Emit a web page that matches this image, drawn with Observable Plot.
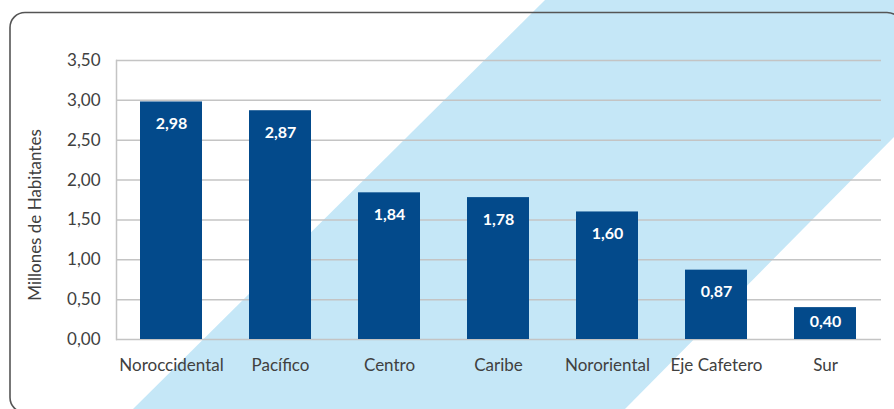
<!DOCTYPE html>
<html>
<head>
<meta charset="utf-8">
<script src="https://cdn.jsdelivr.net/npm/d3@7"></script>
<script src="https://cdn.jsdelivr.net/npm/@observablehq/plot@0.6"></script>
<style>
  html, body { margin: 0; padding: 0; background: white; }
  #wrap { position: relative; width: 894px; height: 409px; overflow: hidden; background: white; }
  #bg { position: absolute; left: 0; top: 0; }
  #chart { position: absolute; left: 0; top: 0; }
</style>
</head>
<body>
<div id="wrap">
  <svg id="bg" width="894" height="409">
    <polygon points="133,409 545,0 894,0 894,137 625,409" fill="#C5E7F7"></polygon>
    <rect x="10" y="12.5" width="892" height="400" rx="15" ry="15" fill="none" stroke="#555" stroke-width="1.6"></rect>
  </svg>
  <div id="chart"></div>
</div>
<script>
const regiones = ["Noroccidental", "Pacífico", "Centro", "Caribe", "Nororiental", "Eje Cafetero", "Sur"];
const habitantes = [2.98, 2.87, 1.84, 1.78, 1.60, 0.87, 0.40];
const yTicks = [0, 0.5, 1.0, 1.5, 2.0, 2.5, 3.0, 3.5];
const yTitle = "Millones de Habitantes";

const data = regiones.map((r, i) => ({region: r, value: habitantes[i]}));
const fmt = v => v.toFixed(2).replace(".", ",");
const FONT = "Lato, 'Liberation Sans', sans-serif";
const FS = 17;

const chart = Plot.plot({
  width: 894,
  height: 409,
  marginLeft: 116,
  marginRight: 13,
  marginTop: 60,
  marginBottom: 70,
  style: {background: "transparent", fontFamily: FONT, fontSize: FS + "px", color: "#404040"},
  x: {domain: regiones, paddingInner: 0.43, paddingOuter: 0.215, label: null},
  y: {domain: [0, 3.5], label: null},
  marks: [
    Plot.ruleY(yTicks, {stroke: "#C4C4C4", strokeWidth: 1.5}),
    Plot.frame({anchor: "left", stroke: "#C4C4C4", strokeWidth: 1.5}),
    Plot.barY(data, {x: "region", y: "value", fill: "#034A8B"}),
    Plot.text(data.filter(d => d.value >= 0.5), {x: "region", y: "value", text: d => fmt(d.value), dy: 22, fill: "white", fontWeight: "bold", fontSize: 16}),
    Plot.text(data.filter(d => d.value < 0.5), {x: "region", y: "value", text: d => fmt(d.value), dy: 14, fill: "white", fontWeight: "bold", fontSize: 16}),
    Plot.axisY({ticks: yTicks, tickSize: 0, tickPadding: 16, tickFormat: fmt, fill: "#404040", fontSize: FS, label: null}),
    Plot.axisX({tickSize: 0, tickPadding: 19, fill: "#404040", fontSize: FS, label: null}),
    Plot.text([yTitle], {frameAnchor: "left", text: d => d, rotate: -90, dx: -81, dy: 15, textAnchor: "middle", fill: "#404040", fontSize: FS})
  ]
});
document.getElementById("chart").appendChild(chart);
</script>
</body>
</html>
